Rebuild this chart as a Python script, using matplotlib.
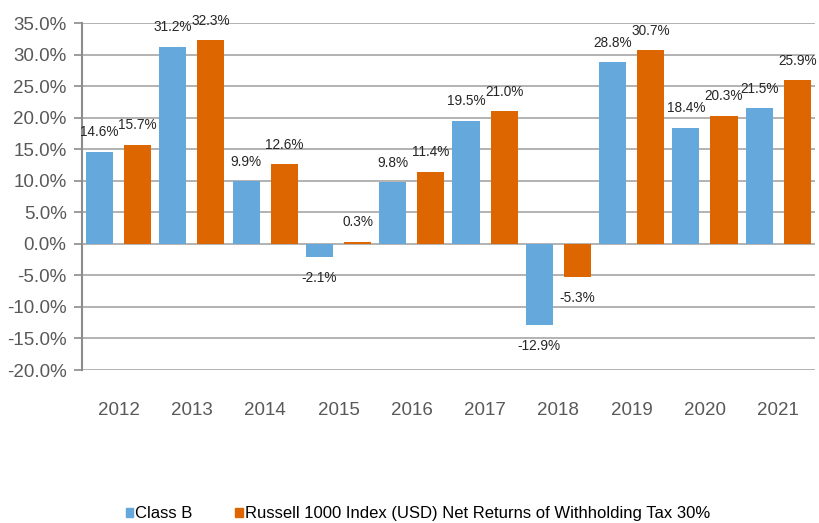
import matplotlib
matplotlib.use("Agg")
import matplotlib.pyplot as plt
import numpy as np
from matplotlib.patches import Patch

plt.rcParams['font.family'] = ['Liberation Sans', 'DejaVu Sans']

years = ["2012", "2013", "2014", "2015", "2016", "2017", "2018", "2019", "2020", "2021"]
class_b = [14.6, 31.2, 9.9, -2.1, 9.8, 19.5, -12.9, 28.8, 18.4, 21.5]
russell = [15.7, 32.3, 12.6, 0.3, 11.4, 21.0, -5.3, 30.7, 20.3, 25.9]
series_names = ["Class B", "Russell 1000 Index (USD) Net Returns of Withholding Tax 30%"]
colors = ["#65A8DC", "#DD6600"]

fig = plt.figure(figsize=(8.19, 5.23), dpi=100)
ax = fig.add_axes([0.100, 0.2925, 0.895, 0.6635])

x = np.arange(len(years))
w = 0.37
off = 0.26
b1 = ax.bar(x - off, class_b, w, color=colors[0], zorder=3)
b2 = ax.bar(x + off, russell, w, color=colors[1], zorder=3)

for bars, vals in ((b1, class_b), (b2, russell)):
    for b, v in zip(bars, vals):
        cx = b.get_x() + b.get_width() / 2
        if v >= 0:
            ax.annotate(f"{v:.1f}%", (cx, v), xytext=(0, 9), textcoords="offset points",
                        ha="center", va="bottom", fontsize=9.8, color="#262626")
        else:
            ax.annotate(f"{v:.1f}%", (cx, v), xytext=(0, -10), textcoords="offset points",
                        ha="center", va="top", fontsize=9.8, color="#262626")

ax.set_ylim(-20, 35)
ax.set_xlim(-0.5, len(years) - 0.5)
ax.set_yticks(np.arange(-20, 36, 5))
ax.set_yticklabels([f"{v:.1f}%" for v in np.arange(-20, 36, 5)])
ax.set_xticks(x)
ax.set_xticklabels(years)
ax.yaxis.grid(True, color="#A6A6A6", linewidth=1.2, zorder=0)
ax.set_axisbelow(True)
for s in ("top", "right", "bottom"):
    ax.spines[s].set_visible(False)
ax.spines["left"].set_color("#8C8C8C")
ax.spines["left"].set_linewidth(1.5)
ax.tick_params(axis="y", colors="#8C8C8C", labelcolor="#595959", labelsize=13.5, length=6, width=1.2, pad=5)
ax.tick_params(axis="x", length=0, labelcolor="#595959", labelsize=13.5, pad=23)

handles = [Patch(color=c) for c in colors]
fig.legend(handles, series_names, loc="lower center", bbox_to_anchor=(0.51, -0.025), ncol=2,
           frameon=False, fontsize=12, handlelength=0.45, handleheight=0.45, handletextpad=0.1,
           columnspacing=2.6)

fig.savefig("out.png", dpi=100)
